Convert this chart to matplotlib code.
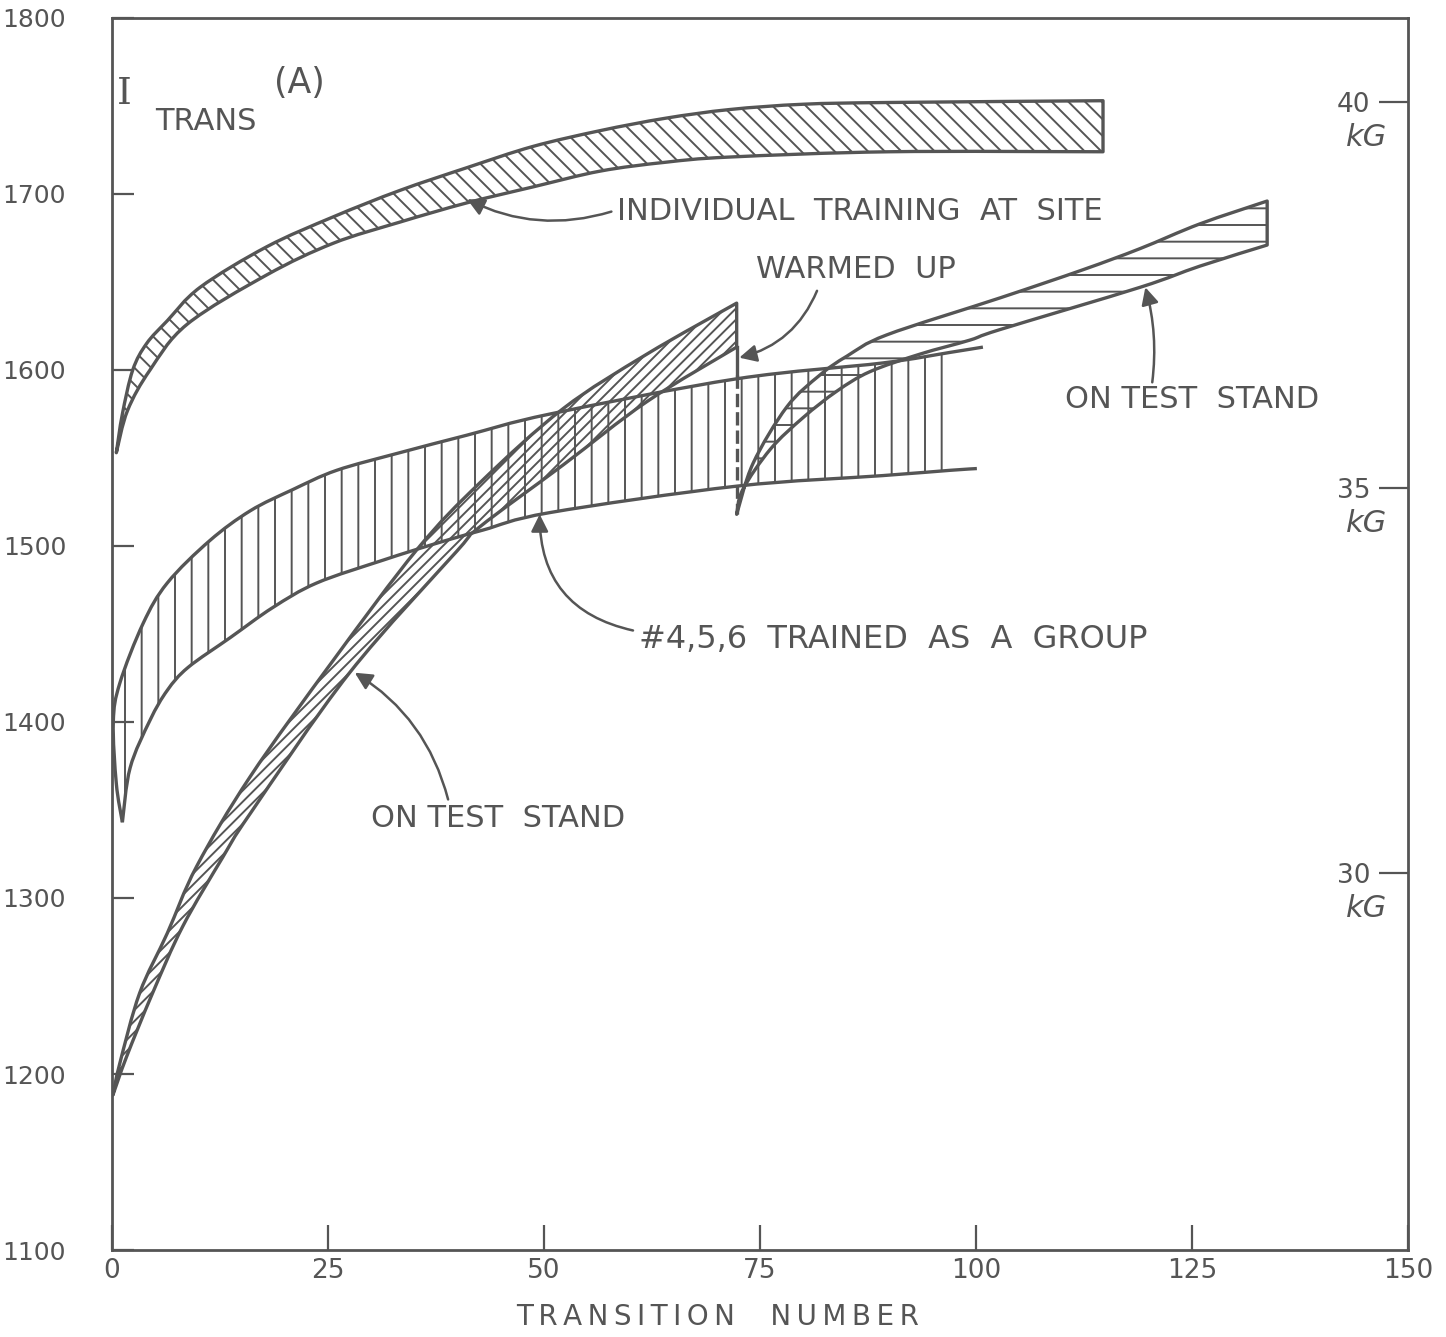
import matplotlib.pyplot as plt
from matplotlib.path import Path
from matplotlib.patches import PathPatch
import numpy as np

INK = '#555555'
plt.rcParams['font.family'] = ['DejaVu Sans']
plt.rcParams['hatch.linewidth'] = 1.4
plt.rcParams['hatch.color'] = INK

# individual training at site (band 1)
site_up_x = [0.5, 1.2, 2.4, 4.0, 6.4, 10.2, 17.9, 25.6, 33.3, 41.1, 48.7, 56.5, 64.0, 71.5, 80.0, 90.0, 114.7]
site_up_y = [1553, 1575, 1600, 1615, 1628, 1647, 1670, 1687, 1702, 1715, 1727, 1736, 1743, 1748, 1751, 1752, 1753]
site_lo_x = [0.5, 1.8, 4.4, 8.7, 17.9, 25.6, 33.3, 41.1, 48.7, 56.5, 64.0, 71.5, 90.0, 114.7]
site_lo_y = [1553, 1577, 1600, 1626, 1654, 1672, 1684, 1695, 1704, 1713, 1718, 1721, 1724, 1724]

# #4,5,6 trained as a group (band 2)
grp_up_x = [1.2, 0.5, 0.15, 0.9, 3.6, 6.4, 11.3, 16.0, 20.9, 26.0, 33.3, 41.1, 50.7, 72.3, 89.2, 97.0, 100.8]
grp_up_y = [1343, 1365, 1400, 1422, 1456, 1479, 1503, 1520, 1532, 1543, 1553, 1563, 1575, 1595, 1604, 1610, 1613]
grp_lo_x = [1.2, 2.1, 4.4, 6.4, 8.8, 13.7, 18.6, 23.7, 31.4, 37.2, 42.9, 50.7, 72.3, 89.2, 97.0, 100.1]
grp_lo_y = [1343, 1374, 1401, 1418, 1431, 1448, 1465, 1479, 1492, 1501, 1509, 1519, 1534, 1540, 1543, 1544]
grp_hatch_end = 97.0

# on test stand, first run (band 3)
ts1_up_x = [0.1, 0.9, 3.2, 6.4, 9.8, 16.0, 25.6, 35.3, 42.6, 52.2, 61.9, 72.3]
ts1_up_y = [1188, 1206, 1246, 1280, 1318, 1369, 1435, 1498, 1536, 1578, 1609, 1638]
ts1_lo_x = [0.1, 1.7, 4.7, 8.2, 12.8, 16.0, 27.5, 39.9, 42.6, 52.2, 61.9, 72.3]
ts1_lo_y = [1188, 1210, 1246, 1284, 1323, 1348, 1428, 1497, 1511, 1546, 1582, 1613]

# on test stand after warm-up (band 4)
ts2_up_x = [72.3, 74.2, 78.1, 81.9, 85.1, 89.7, 102.8, 112.4, 119.0, 125.9, 133.7]
ts2_up_y = [1518, 1547, 1579, 1597, 1608, 1620, 1641, 1657, 1669, 1683, 1696]
ts2_lo_x = [72.3, 73.0, 76.2, 80.0, 83.9, 87.7, 93.5, 99.3, 102.8, 119.0, 125.9, 133.7]
ts2_lo_y = [1518, 1532, 1555, 1573, 1588, 1599, 1609, 1617, 1623, 1647, 1659, 1671]

# warm-up drop
warm_x = 72.3
warm_solid = [1613, 1597]
warm_dashed = [1597, 1518]

kG_per_A = 40 / 1752
kG_ticks = [30, 35, 40]

fig = plt.figure(figsize=(14.46, 13.37), dpi=100)
ax = fig.add_axes([0.07746, 0.06507, 0.89626, 0.92147])
ax.set_xlim(0, 150)
ax.set_ylim(1100, 1800)


def curve(xs, ys, first=Path.MOVETO):
    # smooth drawing through the read points (Catmull-Rom as cubic Beziers)
    p = np.column_stack([xs, ys]).astype(float)
    n = len(p)
    verts, codes = [p[0]], [first]
    for i in range(n - 1):
        p0 = p[i - 1] if i > 0 else p[i]
        p3 = p[i + 2] if i + 2 < n else p[i + 1]
        verts += [p[i] + (p[i + 1] - p0) / 6, p[i + 1] - (p3 - p[i]) / 6, p[i + 1]]
        codes += [Path.CURVE4] * 3
    return verts, codes


def band_path(ux, uy, lx, ly):
    vu, cu = curve(ux, uy)
    vl, cl = curve(lx[::-1], ly[::-1], first=Path.LINETO)
    return Path(vu + vl + [vu[0]], cu + cl + [Path.CLOSEPOLY])


def band(ux, uy, lx, ly, hatch):
    path = band_path(ux, uy, lx, ly)
    ax.add_patch(PathPatch(path, facecolor='none', edgecolor=INK, hatch=hatch, lw=0))
    ax.add_patch(PathPatch(path, facecolor='none', edgecolor=INK, lw=2.4, joinstyle='round'))


def open_line(xs, ys, **kw):
    v, c = curve(xs, ys)
    ax.add_patch(PathPatch(Path(v, c), facecolor='none', edgecolor=INK, lw=2.4, **kw))


band(site_up_x, site_up_y, site_lo_x, site_lo_y, '\\\\')

# group band: hatch only up to grp_hatch_end, outlines run further
hu = [(x, y) for x, y in zip(grp_up_x, grp_up_y) if x <= grp_hatch_end]
hl = [(x, y) for x, y in zip(grp_lo_x, grp_lo_y) if x <= grp_hatch_end]
gpath = band_path([a for a, b in hu], [b for a, b in hu], [a for a, b in hl], [b for a, b in hl])
ax.add_patch(PathPatch(gpath, facecolor='none', edgecolor=INK, hatch='|', lw=0))
open_line(grp_up_x, grp_up_y)
open_line(grp_lo_x, grp_lo_y)

band(ts1_up_x, ts1_up_y, ts1_lo_x, ts1_lo_y, '///')
band(ts2_up_x, ts2_up_y, ts2_lo_x, ts2_lo_y, '-')

ax.plot([warm_x, warm_x], warm_solid, color=INK, lw=2.4)
ax.plot([warm_x, warm_x], warm_dashed, color=INK, lw=2.4, linestyle=(0, (4, 1.5)))

# axes styling
for s in ax.spines.values():
    s.set_color(INK)
    s.set_linewidth(2)
ax.set_xticks([0, 25, 50, 75, 100, 125, 150])
ax.set_yticks(range(1100, 1801, 100))
ax.tick_params(axis='y', direction='in', length=16, width=1.6, colors=INK, labelsize=18, pad=33)
ax.tick_params(axis='x', direction='in', length=18, width=1.6, colors=INK, labelsize=19, pad=6)
ts = '\u2009'
ax.set_xlabel(ts.join('TRANSITION') + '    ' + ts.join('NUMBER'), fontsize=20, color=INK)
ax.xaxis.set_label_coords(0.467, -0.043)

sec = ax.secondary_yaxis('right', functions=(lambda a: a * kG_per_A, lambda b: b / kG_per_A))
sec.set_yticks(kG_ticks, labels=[str(t) for t in kG_ticks])
sec.spines['right'].set_visible(False)
sec.tick_params(direction='in', length=21, width=1.6, colors=INK, labelsize=19, pad=-27)
for t in sec.get_yticklabels():
    t.set_ha('right')
for t in kG_ticks:
    ax.text(147.6, t / kG_per_A - 20, 'kG', fontsize=22, color=INK, ha='right', va='center', style='italic')

# labels and arrows
ax.text(0.6, 1757, 'I', fontsize=27, color=INK, va='center', family='DejaVu Serif')
ax.text(5.0, 1741, 'TRANS', fontsize=22, color=INK, va='center')
ax.text(18.8, 1763, '(A)', fontsize=25, color=INK, va='center')

arrow = dict(arrowstyle='-|>', mutation_scale=26, color=INK, lw=1.8, shrinkA=0, shrinkB=0)
txt = dict(fontsize=22, color=INK, va='center')

ax.text(58.5, 1690, 'INDIVIDUAL  TRAINING  AT  SITE', **txt)
ax.annotate('', xy=(41.1, 1697), xytext=(57.8, 1690),
            arrowprops=dict(arrow, connectionstyle='arc3,rad=-0.2'))

ax.text(86.1, 1657, 'WARMED  UP', ha='center', **txt)
ax.annotate('', xy=(72.6, 1607), xytext=(81.6, 1645),
            arrowprops=dict(arrow, connectionstyle='arc3,rad=-0.25'))

ax.text(125.0, 1583, 'ON TEST  STAND', ha='center', **txt)
ax.annotate('', xy=(119.6, 1647), xytext=(120.4, 1593),
            arrowprops=dict(arrow, connectionstyle='arc3,rad=0.1'))

ax.text(61.0, 1447, '#4,5,6  TRAINED  AS  A  GROUP', fontsize=23, color=INK, va='center')
ax.annotate('', xy=(49.5, 1518), xytext=(60.3, 1452),
            arrowprops=dict(arrow, connectionstyle='arc3,rad=-0.4'))

ax.text(44.7, 1345, 'ON TEST  STAND', ha='center', **txt)
ax.annotate('', xy=(28.1, 1428), xytext=(38.9, 1356),
            arrowprops=dict(arrow, connectionstyle='arc3,rad=0.2'))

plt.savefig('out.png', dpi=100)
